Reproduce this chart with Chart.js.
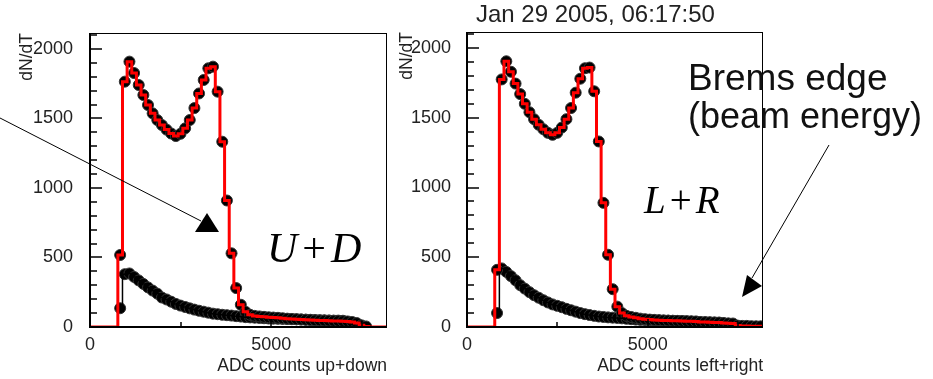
<!DOCTYPE html>
<html>
<head>
<meta charset="utf-8">
<script src="https://cdn.jsdelivr.net/npm/chart.js@4"></script>
<style>
  html, body { margin: 0; padding: 0; background: #fff; }
  #wrap { position: relative; width: 933px; height: 379px; overflow: hidden; }
  #wrap canvas, #wrap svg { position: absolute; left: 0; top: 0; }
  svg { pointer-events: none; }
</style>
</head>
<body>
<div id="wrap">
  <canvas id="ud" width="933" height="379"></canvas>
  <canvas id="lr" width="933" height="379"></canvas>
  <svg width="933" height="379" font-family="Liberation Sans, Arial, sans-serif">
    <text x="476" y="22" font-size="24" fill="#222">Jan 29 2005, 06:17:50</text>

    <line x1="0" y1="118" x2="201" y2="221" stroke="#000" stroke-width="1"/>
    <polygon points="195,232 207,213 219,232" fill="#000"/>
    <text x="267" y="262" font-family="Liberation Serif, serif" font-size="42" fill="#000"><tspan font-style="italic">U</tspan><tspan dx="5">+</tspan><tspan dx="5" font-style="italic">D</tspan></text>

    <text x="644" y="213" font-family="Liberation Serif, serif" font-size="39" fill="#000"><tspan font-style="italic">L</tspan><tspan dx="4">+</tspan><tspan dx="4" font-style="italic">R</tspan></text>

    <text x="688" y="90" font-size="37" fill="#111">Brems edge</text>
    <text x="688" y="128" font-size="36" fill="#111">(beam energy)</text>
    <line x1="829" y1="145" x2="752" y2="278" stroke="#000" stroke-width="1"/>
    <polygon points="742,297 747,275 762,286" fill="#000"/>
  </svg>
</div>
<script>
// histogram binning: 64 bins over 0..8192 ADC counts
const BIN_WIDTH = 128;
const X_MAX = 8192;
const Y_MAX = 2115;
const xLabels = [0, 5000];
const yLabels = [0, 500, 1000, 1500, 2000];

// up+down sum: full spectrum (red) and lower curve
const udTotal = [
  0, 0, 0, 0, 0, 0, 518, 1765,
  1909, 1827, 1741, 1669, 1597, 1537, 1489, 1453,
  1420, 1392, 1374, 1390, 1429, 1489, 1575, 1680,
  1777, 1861, 1873, 1693, 1333, 910, 530, 280,
  160, 110, 88, 80, 76, 73, 70, 68,
  66, 63, 60, 58, 56, 54, 52, 50,
  48, 47, 46, 45, 44, 43, 42, 40,
  36, 28, 12, 4, 0, 0, 0, 0
];
const udLow = [
  0, 0, 0, 0, 0, 0, 135, 380,
  385, 360, 335, 310, 285, 262, 240, 212,
  198, 182, 166, 154, 144, 134, 125, 117,
  110, 103, 96, 92, 88, 85, 82, 78,
  75, 71, 69, 67, 65, 63, 61, 60,
  59, 58, 57, 56, 55, 54, 53, 52,
  50, 49, 48, 47, 46, 46, 45, 35,
  20, 6, 0, 0, 0, 0, 0, 0
];

// left+right sum
const lrTotal = [
  0, 0, 0, 0, 0, 0, 410, 1775,
  1905, 1830, 1745, 1670, 1600, 1540, 1490, 1450,
  1418, 1392, 1378, 1392, 1430, 1490, 1570, 1680,
  1780, 1855, 1860, 1690, 1330, 890, 518, 271,
  146, 100, 80, 72, 66, 60, 56, 53,
  51, 49, 47, 46, 45, 44, 43, 42,
  41, 40, 36, 35, 34, 33, 32, 28,
  26, 25, 10, 8, 8, 6, 5, 5
];
const lrLow = [
  0, 0, 0, 0, 0, 0, 100, 420,
  395, 365, 335, 300, 275, 250, 228, 210,
  192, 176, 162, 152, 142, 130, 120, 110,
  100, 92, 86, 80, 75, 72, 69, 67,
  65, 62, 59, 56, 53, 51, 50, 49,
  48, 47, 46, 45, 44, 43, 42, 40,
  38, 36, 34, 33, 32, 31, 30, 27,
  20, 10, 4, 0, 0, 0, 0, 0
];

const binCenters = udTotal.map((_, i) => i * BIN_WIDTH + BIN_WIDTH / 2);

Chart.defaults.font.family = "'Liberation Sans', Arial, sans-serif";
Chart.defaults.color = '#222';

function stepData(values) {
  const pts = [{ x: 0, y: values[0] }];
  values.forEach((v, i) => pts.push({ x: binCenters[i], y: v }));
  pts.push({ x: X_MAX, y: values[values.length - 1] });
  return pts;
}

function markerData(values) {
  return values.map((v, i) => ({ x: binCenters[i], y: v })).filter(p => p.y > 0);
}

function fixedTicks(values) {
  return scale => { scale.ticks = values.map(v => ({ value: v })); };
}

// ROOT style frame with ticks pointing inwards
const frameTicks = {
  id: 'frameTicks',
  afterDatasetsDraw(chart) {
    const { ctx, chartArea: a, scales: { x, y } } = chart;
    ctx.save();
    ctx.strokeStyle = '#000';
    ctx.lineWidth = 1;
    ctx.strokeRect(a.left + 0.5, a.top + 0.5, a.right - a.left - 1, a.bottom - a.top);
    ctx.lineWidth = 2;
    ctx.beginPath();
    ctx.moveTo(a.left, a.top);
    ctx.lineTo(a.left, a.bottom);
    ctx.lineTo(a.right, a.bottom);
    ctx.stroke();
    ctx.lineWidth = 1.5;
    ctx.beginPath();
    for (let v = 0; v <= Y_MAX; v += 100) {
      const py = Math.round(y.getPixelForValue(v));
      const len = v % 500 === 0 ? 12 : 7;
      ctx.moveTo(a.left, py);
      ctx.lineTo(a.left + len, py);
    }
    for (let v = 2500; v < X_MAX; v += 2500) {
      const px = Math.round(x.getPixelForValue(v));
      const len = v % 5000 === 0 ? 8 : 5;
      ctx.moveTo(px, a.bottom);
      ctx.lineTo(px, a.bottom - len);
    }
    ctx.stroke();
    ctx.restore();
  }
};

function makeChart(id, total, low, xTitle, pad, yWidth, yTitlePad, yTickPad) {
  const markerStyle = {
    showLine: false,
    pointRadius: 5.5,
    pointBorderWidth: 1,
    pointBackgroundColor: '#000',
    pointBorderColor: '#333'
  };
  return new Chart(document.getElementById(id), {
    type: 'line',
    data: {
      datasets: [
        {
          data: stepData(total),
          stepped: 'middle',
          borderColor: '#ff0000',
          borderWidth: 3,
          pointRadius: 0,
          order: 0
        },
        {
          data: stepData(low),
          stepped: 'middle',
          borderColor: '#000',
          borderWidth: 1.5,
          pointRadius: 0,
          order: 1
        },
        { data: markerData(total), ...markerStyle, order: 2 },
        { data: markerData(low), ...markerStyle, order: 3 }
      ]
    },
    options: {
      responsive: false,
      animation: false,
      events: [],
      layout: { padding: pad },
      plugins: { legend: { display: false }, tooltip: { enabled: false } },
      scales: {
        x: {
          type: 'linear',
          min: 0,
          max: X_MAX,
          afterBuildTicks: fixedTicks(xLabels),
          grid: { display: false, drawTicks: false },
          border: { display: false },
          ticks: {
            autoSkip: false,
            maxRotation: 0,
            padding: 7,
            font: { size: 18 },
            callback: (v, i, t) => String(t[i].value)
          },
          title: {
            display: true,
            text: xTitle,
            align: 'end',
            font: { size: 17.5 },
            padding: { top: 0, bottom: 2 }
          },
          afterFit: s => { s.height = 52; }
        },
        y: {
          type: 'linear',
          min: 0,
          max: Y_MAX,
          afterBuildTicks: fixedTicks(yLabels),
          grid: { display: false, drawTicks: false },
          border: { display: false },
          ticks: {
            autoSkip: false,
            padding: yTickPad,
            font: { size: 18 },
            callback: (v, i, t) => String(t[i].value)
          },
          title: {
            display: true,
            text: 'dN/dT',
            align: 'end',
            font: { size: 17.5 },
            padding: { top: yTitlePad, bottom: 0 }
          },
          afterFit: s => { s.width = yWidth; }
        }
      }
    },
    plugins: [frameTicks]
  });
}

makeChart('ud', udTotal, udLow, 'ADC counts up+down',
  { left: 0, top: 33, right: 546, bottom: 0 }, 90, 17, 17);
makeChart('lr', lrTotal, lrLow, 'ADC counts left+right',
  { left: 390, top: 32, right: 170, bottom: 0 }, 77, 7, 16);
</script>
</body>
</html>
